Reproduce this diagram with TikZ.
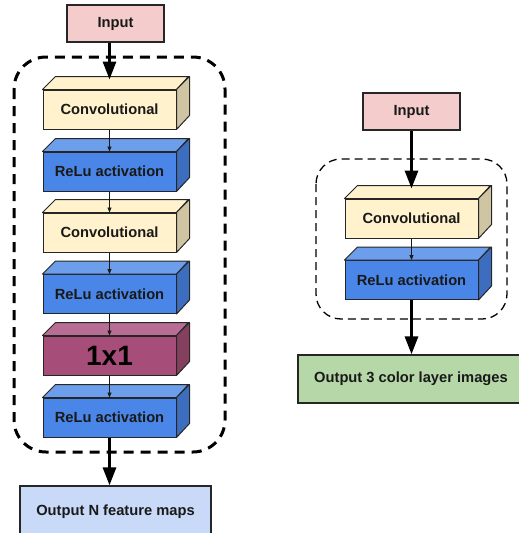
\documentclass[tikz,border=0pt]{standalone}
\usepackage{fontspec}
\setmainfont{Liberation Sans}
\usetikzlibrary{arrows.meta}

\definecolor{inputpink}{HTML}{F4CCCC}
\definecolor{convfront}{HTML}{FFF2CC}
\definecolor{convside}{HTML}{CFC5A3}
\definecolor{relufront}{HTML}{4A86E8}
\definecolor{relutop}{HTML}{6D9EEB}
\definecolor{reluside}{HTML}{3D6DBF}
\definecolor{onefront}{HTML}{A64D79}
\definecolor{onetop}{HTML}{B86E94}
\definecolor{oneside}{HTML}{85405F}
\definecolor{outblue}{HTML}{C9DAF8}
\definecolor{outgreen}{HTML}{B6D7A8}

\tikzset{
  box/.style={draw=black!85, line width=1.3pt, inner sep=0pt, text=black!90,
    font=\fontsize{14.7}{17}\selectfont\bfseries},
  block/.style={box, line width=1pt, minimum width=133pt, minimum height=39pt},
  face/.style={draw=black!85, line width=1pt, line join=round},
  bigarrow/.style={line width=3pt, -{Triangle[length=18pt,width=13pt]}},
  thinarrow/.style={draw=black!90, line width=0.9pt, -{Triangle[length=5pt,width=4pt]}},
  dashbox/.style={dashed, line width=#1}
}

\begin{document}
\begin{tikzpicture}[x=1pt, y=-1pt]
    \useasboundingbox (0,0) rectangle (519,533);
    \clip (0,0) rectangle (519,533);

    % left column
    \draw[dashbox=3pt, dash pattern=on 10pt off 7pt, rounded corners=32pt] (14,57) rectangle (225,452);
    \node[box, fill=inputpink, minimum width=97pt, minimum height=37pt] (inL) at (115.5,23.5) {Input};

    \node[block, fill=convfront] (convA) at (109.5,109.5) {Convolutional};
    \filldraw[face, fill=convfront] (convA.north west) -- ++(13,-13) -- ++(133,0) -- (convA.north east) -- cycle;
    \filldraw[face, fill=convside] (convA.north east) -- ++(13,-13) -- ++(0,39) -- (convA.south east) -- cycle;

    \node[block, fill=relufront] (reluA) at (109.5,171.5) {ReLu activation};
    \filldraw[face, fill=relutop] (reluA.north west) -- ++(13,-13) -- ++(133,0) -- (reluA.north east) -- cycle;
    \filldraw[face, fill=reluside] (reluA.north east) -- ++(13,-13) -- ++(0,39) -- (reluA.south east) -- cycle;

    \node[block, fill=convfront] (convB) at (109.5,232.5) {Convolutional};
    \filldraw[face, fill=convfront] (convB.north west) -- ++(13,-13) -- ++(133,0) -- (convB.north east) -- cycle;
    \filldraw[face, fill=convside] (convB.north east) -- ++(13,-13) -- ++(0,39) -- (convB.south east) -- cycle;

    \node[block, fill=relufront] (reluB) at (109.5,294) {ReLu activation};
    \filldraw[face, fill=relutop] (reluB.north west) -- ++(13,-13) -- ++(133,0) -- (reluB.north east) -- cycle;
    \filldraw[face, fill=reluside] (reluB.north east) -- ++(13,-13) -- ++(0,39) -- (reluB.south east) -- cycle;

    \node[block, fill=onefront, text=black, font=\fontsize{28}{32}\selectfont\bfseries] (oneone) at (109.5,355.5) {1x1};
    \filldraw[face, fill=onetop] (oneone.north west) -- ++(13,-13) -- ++(133,0) -- (oneone.north east) -- cycle;
    \filldraw[face, fill=oneside] (oneone.north east) -- ++(13,-13) -- ++(0,39) -- (oneone.south east) -- cycle;

    \node[block, fill=relufront] (reluC) at (109.5,417.5) {ReLu activation};
    \filldraw[face, fill=relutop] (reluC.north west) -- ++(13,-13) -- ++(133,0) -- (reluC.north east) -- cycle;
    \filldraw[face, fill=reluside] (reluC.north east) -- ++(13,-13) -- ++(0,39) -- (reluC.south east) -- cycle;

    \node[box, fill=outblue, minimum width=191pt, minimum height=52pt] (outN) at (115.5,512) {Output N feature maps};

    \draw[bigarrow] (inL.south -| convA.north) -- ([yshift=10pt]convA.north);
    \draw[thinarrow] (convA.south) -- (reluA.north);
    \draw[thinarrow] (reluA.south) -- (convB.north);
    \draw[thinarrow] (convB.south) -- (reluB.north);
    \draw[thinarrow] (reluB.south) -- (oneone.north);
    \draw[thinarrow] (oneone.south) -- (reluC.north);
    \draw[bigarrow] (reluC.south) -- (reluC.south |- outN.north);

    % right column
    \draw[dashbox=1.3pt, dash pattern=on 8pt off 5pt, rounded corners=25pt] (316,159) rectangle (507,319);
    \node[box, fill=inputpink, minimum width=97pt, minimum height=37pt] (inR) at (411.5,111.5) {Input};

    \node[block, fill=convfront] (convR) at (411.5,218.5) {Convolutional};
    \filldraw[face, fill=convfront] (convR.north west) -- ++(13,-13) -- ++(133,0) -- (convR.north east) -- cycle;
    \filldraw[face, fill=convside] (convR.north east) -- ++(13,-13) -- ++(0,39) -- (convR.south east) -- cycle;

    \node[block, fill=relufront] (reluR) at (411.5,280) {ReLu activation};
    \filldraw[face, fill=relutop] (reluR.north west) -- ++(13,-13) -- ++(133,0) -- (reluR.north east) -- cycle;
    \filldraw[face, fill=reluside] (reluR.north east) -- ++(13,-13) -- ++(0,39) -- (reluR.south east) -- cycle;

    \node[box, fill=outgreen, minimum width=226pt, minimum height=48pt] (outC) at (411,379) {Output 3 color layer images};

    \draw[bigarrow] (inR.south -| convR.north) -- ([yshift=10pt]convR.north);
    \draw[thinarrow] (convR.south) -- (reluR.north);
    \draw[bigarrow] (reluR.south) -- (reluR.south |- outC.north);
\end{tikzpicture}
\end{document}
